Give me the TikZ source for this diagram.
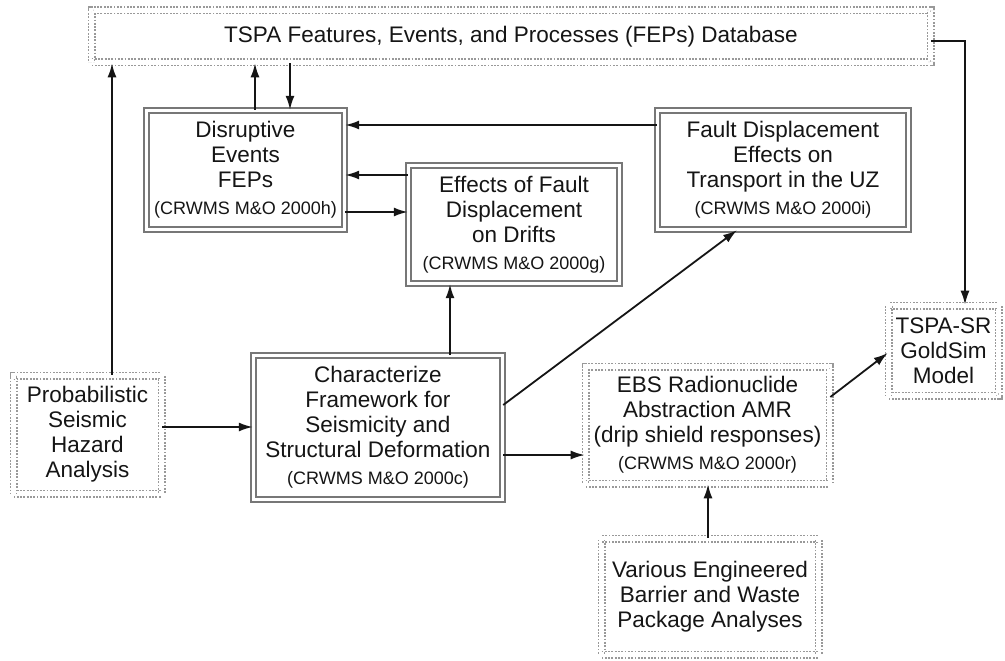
\documentclass[tikz,border=0pt]{standalone}
\usepackage{fontspec}
\setmainfont{Liberation Sans}
\usetikzlibrary{arrows.meta}
\definecolor{boxgray}{HTML}{777777}
\definecolor{dotgray}{HTML}{999999}
\definecolor{ink}{HTML}{151515}
\newcommand\smtxt{\fontsize{18}{20}\selectfont}
\begin{document}
\begin{tikzpicture}[x=1pt,y=-1pt,
  every node/.style={text=ink,align=center,font=\fontsize{22.5}{25}\selectfont,inner sep=0pt},
  solidbox/.style={draw=boxgray,line width=1.4pt,double=white,double distance=3.6pt,rectangle},
  dotbox/.style={draw=dotgray,line width=1.7pt,double=white,double distance=4.6pt,dash pattern=on 1.8pt off 1.5pt,rectangle},
  arr/.style={draw=ink,line width=1.8pt,-{Latex[length=14pt,width=9pt]}}]
\path[fill=white,use as bounding box] (0,0) rectangle (1005,661);

\node[dotbox,minimum width=839pt,minimum height=52pt] (DB) at (511,36.5)
  {TSPA Features, Events, and Processes (FEPs) Database};
\node[solidbox,minimum width=198pt,minimum height=119pt] (DE) at (245.5,170)
  {Disruptive\\Events\\FEPs\\[2pt]{\smtxt (CRWMS M\&O 2000h)}};
\node[solidbox,minimum width=211pt,minimum height=118pt] (EFD) at (514,224.5)
  {Effects of Fault\\Displacement\\on Drifts\\[2pt]{\smtxt (CRWMS M\&O 2000g)}};
\node[solidbox,minimum width=251pt,minimum height=119pt] (FDE) at (783,170)
  {Fault Displacement\\Effects on\\Transport in the UZ\\[2pt]{\smtxt (CRWMS M\&O 2000i)}};
\node[solidbox,minimum width=249pt,minimum height=144pt] (CH) at (378,427.5)
  {Characterize\\Framework for\\Seismicity and\\Structural Deformation\\[2pt]{\smtxt (CRWMS M\&O 2000c)}};
\node[dotbox,minimum width=148pt,minimum height=118pt] (PR) at (87.5,434.5)
  {Probabilistic\\Seismic\\Hazard\\Analysis};
\node[dotbox,minimum width=244pt,minimum height=117pt] (EBS) at (707.5,425)
  {EBS Radionuclide\\Abstraction AMR\\(drip shield responses)\\[2pt]{\smtxt (CRWMS M\&O 2000r)}};
\node[dotbox,minimum width=110pt,minimum height=90pt] (TS) at (943.5,350.5)
  {TSPA-SR\\GoldSim\\Model};
\node[dotbox,minimum width=217pt,minimum height=116pt] (VA) at (710,596.5)
  {Various Engineered\\Barrier and Waste\\Package Analyses};

% connectors
\draw[arr] (112,0 |- PR.north) -- (112,0 |- DB.south);
\draw[arr] (255,0 |- DE.north) -- (255,0 |- DB.south);
\draw[arr] (290,0 |- DB.south) -- (290,0 |- DE.north);
\draw[arr] (FDE.west |- 0,125) -- (DE.east |- 0,125);
\draw[arr] (EFD.west |- 0,175) -- (DE.east |- 0,175);
\draw[arr] (DE.east |- 0,212) -- (EFD.west |- 0,212);
\draw[arr] (450,0 |- CH.north) -- (450,0 |- EFD.south);
\draw[arr] (CH.east |- 0,405) -- (737,0 |- FDE.south);
\draw[arr] (CH.east |- 0,455) -- (EBS.west |- 0,455);
\draw[arr] (PR.east |- 0,427) -- (CH.west |- 0,427);
\draw[arr] (708,0 |- VA.north) -- (708,0 |- EBS.south);
\draw[arr] (EBS.east |- 0,397) -- (TS.west |- 0,353);
\draw[arr] (DB.east |- 0,41) -| (965,0 |- TS.north);
\end{tikzpicture}
\end{document}
